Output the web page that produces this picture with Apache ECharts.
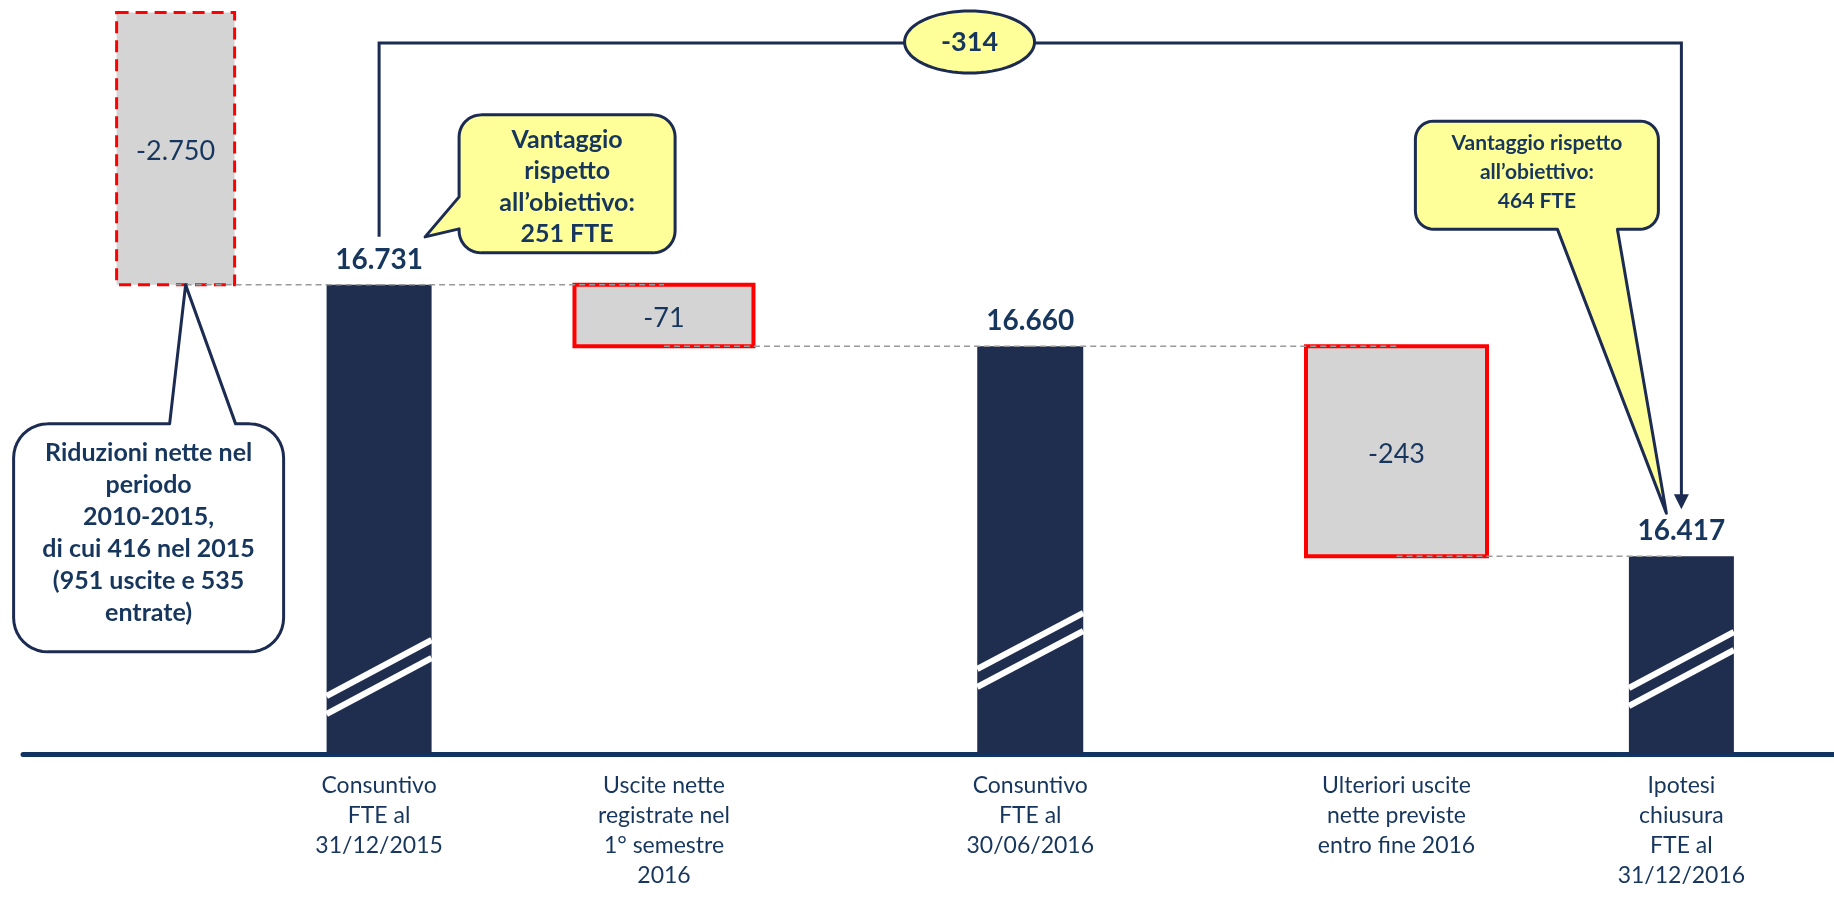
<!DOCTYPE html>
<html>
<head>
<meta charset="utf-8">
<title>FTE - ponte 2015 / 2016</title>
<script src="https://cdn.jsdelivr.net/npm/echarts@6/dist/echarts.min.js"></script>
<style>
  html, body { margin: 0; padding: 0; background: #fff; }
  #chart { width: 1834px; height: 898px; }
</style>
</head>
<body>
<div id="chart"></div>
<script>
// waterfall steps, left to right
const categories = [
  '',
  'Consuntivo\nFTE al\n31/12/2015',
  'Uscite nette\nregistrate nel\n1° semestre\n2016',
  'Consuntivo\nFTE al\n30/06/2016',
  'Ulteriori uscite\nnette previste\nentro fine 2016',
  'Ipotesi\nchiusura\nFTE al\n31/12/2016'
]
const stepTypes = ['delta', 'total', 'delta', 'total', 'delta', 'total']
const stepValues = [-2750, 16731, -71, 16660, -243, 16417]

// call-out boxes and the step each one points at
const calloutTexts = [
  'Riduzioni nette nel\nperiodo\n2010-2015,\ndi cui 416 nel 2015\n(951 uscite e 535\nentrate)',
  'Vantaggio\nrispetto\nall’obiettivo:\n251 FTE',
  'Vantaggio rispetto\nall’obiettivo:\n464 FTE'
]
const calloutStep = [0, 1, 5]

// layout (not data): the x axis is cut in thin slots so the steps keep the uneven spacing
const SLOT_COUNT = 89
const stepSlot = [7, 17, 31, 49, 67, 81]
const stepWidth = [118, 105, 179, 106, 181, 105]
const breakLift = [0, 0, 0, 27, 0, 8]
const yRange = [16188, 17048] // broken axis, bars are not drawn from zero
const calloutLayout = [
  { box: [-162, 139, 270, 228], r: 34, side: 'top', base: [-6, 60], tip: [10, 0], fill: '#ffffff', size: 25, lh: 32, dy: -5 },
  { box: [80, -170, 216, 138], r: 22, side: 'left', base: [-56, -88], tip: [46, -48], fill: '#ffff99', size: 25, lh: 31.5, dy: 3 },
  { box: [-266, -435, 243, 108], r: 18, side: 'bottom', base: [-64, -124], tip: [-15, -43], fill: '#ffff99', size: 21, lh: 29, dy: -3 }
]

const FONT = 'Lato, "Open Sans", sans-serif'
const NAVY = '#1f2d4e'
const INK = '#17365d'
const LINE = '#1c2b52'

const fmt = v => (v < 0 ? '-' : '') + String(Math.abs(v)).replace(/\B(?=(\d{3})+(?!\d))/g, '.')

const slotNames = Array.from({ length: SLOT_COUNT }, (_, k) => String(k))
const slotLabels = Array.from({ length: SLOT_COUNT }, () => '')
stepSlot.forEach((s, i) => { slotLabels[s] = categories[i] })

// level reached after each step (a delta ends on the following total)
const levelAfter = stepValues.map((v, i) => stepTypes[i] === 'total' ? v : stepValues[i + 1])

const stepData = stepValues.map((v, i) => {
  if (stepTypes[i] === 'total') return [stepSlot[i], v, v, i]
  return [stepSlot[i], levelAfter[i], levelAfter[i] - v, i]
})
const connectorData = stepSlot.slice(0, -1).map((s, i) => [s, levelAfter[i], stepSlot[i + 1], levelAfter[i]])
const bracketData = [[stepSlot[1], stepValues[1], stepSlot[5], stepValues[5]]]
const calloutData = calloutStep.map((s, k) => [stepSlot[s], levelAfter[s], k])

function renderStep(params, api) {
  const i = api.value(3)
  const cs = params.coordSys
  const hi = api.coord([api.value(0), api.value(2)])
  const x = hi[0]
  const w = stepWidth[i]
  const kids = []
  if (stepTypes[i] === 'total') {
    const bottom = cs.y + cs.height
    kids.push({ type: 'rect', shape: { x: x - w / 2, y: hi[1], width: w, height: bottom - hi[1] }, style: { fill: NAVY } })
    // axis-break marks near the foot of the bar
    const lift = breakLift[i]
    for (const off of [0, 18]) {
      kids.push({
        type: 'line',
        shape: { x1: x - w / 2, y1: bottom - 40 - off - lift, x2: x + w / 2, y2: bottom - 96 - off - lift },
        style: { stroke: '#ffffff', lineWidth: 6 }
      })
    }
    kids.push({
      type: 'text',
      style: { text: fmt(stepValues[i]), x: x, y: hi[1] - 25, align: 'center', verticalAlign: 'middle', fill: INK, fontSize: 28, fontWeight: 'bold', fontFamily: FONT }
    })
  } else {
    const lo = api.coord([api.value(0), api.value(1)])
    const notToScale = hi[1] < cs.y
    const top = Math.max(hi[1], cs.y + 1.5)
    const style = { fill: '#d4d4d4', stroke: '#ff0000', lineWidth: 4 }
    if (notToScale) {
      style.lineWidth = 3
      style.lineDash = [12, 7]
    }
    kids.push({ type: 'rect', shape: { x: x - w / 2, y: top, width: w, height: lo[1] - top }, style: style })
    kids.push({
      type: 'text',
      style: { text: fmt(stepValues[i]), x: x, y: (top + lo[1]) / 2 + 3, align: 'center', verticalAlign: 'middle', fill: INK, fontSize: 27, fontFamily: FONT }
    })
  }
  return { type: 'group', children: kids }
}

function renderConnector(params, api) {
  const a = api.coord([api.value(0), api.value(1)])
  const b = api.coord([api.value(2), api.value(3)])
  return {
    type: 'line',
    shape: { x1: a[0], y1: a[1], x2: b[0], y2: b[1] },
    style: { stroke: '#9a9a9a', lineWidth: 1.5, lineDash: [6, 4] }
  }
}

function renderBracket(params, api) {
  const cs = params.coordSys
  const a = api.coord([api.value(0), api.value(1)])
  const b = api.coord([api.value(2), api.value(3)])
  const topY = cs.y + 32
  const tipY = b[1] - 47
  const cx = a[0] + (b[0] - a[0]) * 0.4534
  const ellipse = []
  for (let k = 0; k < 72; k++) {
    const t = k / 72 * Math.PI * 2
    ellipse.push([cx + 65 * Math.cos(t), topY - 1 + 31 * Math.sin(t)])
  }
  return {
    type: 'group',
    children: [
      {
        type: 'polyline',
        shape: { points: [[a[0], a[1] - 48], [a[0], topY], [b[0], topY], [b[0], tipY - 14]] },
        style: { stroke: LINE, lineWidth: 3, fill: null }
      },
      { type: 'polygon', shape: { points: [[b[0] - 7.5, tipY - 15], [b[0] + 7.5, tipY - 15], [b[0], tipY]] }, style: { fill: LINE } },
      { type: 'polygon', shape: { points: ellipse }, style: { fill: '#ffff99', stroke: LINE, lineWidth: 3 } },
      {
        type: 'text',
        style: { text: fmt(api.value(3) - api.value(1)), x: cx, y: topY - 1, align: 'center', verticalAlign: 'middle', fill: INK, fontSize: 27, fontWeight: 'bold', fontFamily: FONT }
      }
    ]
  }
}

// rounded box with a pointer, as one outline
function calloutPoints(x, y, w, h, r, side, b1, b2, tip) {
  const pts = []
  const arc = (cx, cy, a0, a1) => {
    for (let k = 0; k <= 10; k++) {
      const t = a0 + (a1 - a0) * k / 10
      pts.push([cx + r * Math.cos(t), cy + r * Math.sin(t)])
    }
  }
  arc(x + r, y + r, Math.PI, 1.5 * Math.PI)
  if (side === 'top') pts.push(b1, tip, b2)
  arc(x + w - r, y + r, 1.5 * Math.PI, 2 * Math.PI)
  arc(x + w - r, y + h - r, 0, 0.5 * Math.PI)
  if (side === 'bottom') pts.push(b1, tip, b2)
  arc(x + r, y + h - r, 0.5 * Math.PI, Math.PI)
  if (side === 'left') pts.push(b1, tip, b2)
  return pts
}

function renderCallout(params, api) {
  const p = api.coord([api.value(0), api.value(1)])
  const k = api.value(2)
  const c = calloutLayout[k]
  const bx = p[0] + c.box[0]
  const by = p[1] + c.box[1]
  const bw = c.box[2]
  const bh = c.box[3]
  let b1, b2
  if (c.side === 'left') {
    b1 = [bx, p[1] + c.base[0]]
    b2 = [bx, p[1] + c.base[1]]
  } else if (c.side === 'top') {
    b1 = [p[0] + c.base[0], by]
    b2 = [p[0] + c.base[1], by]
  } else {
    b1 = [p[0] + c.base[0], by + bh]
    b2 = [p[0] + c.base[1], by + bh]
  }
  const tip = [p[0] + c.tip[0], p[1] + c.tip[1]]
  return {
    type: 'group',
    children: [
      {
        type: 'polygon',
        shape: { points: calloutPoints(bx, by, bw, bh, c.r, c.side, b1, b2, tip) },
        style: { fill: c.fill, stroke: LINE, lineWidth: 3, lineJoin: 'round' }
      },
      {
        type: 'text',
        style: {
          text: calloutTexts[k], x: bx + bw / 2, y: by + bh / 2 + c.dy,
          align: 'center', verticalAlign: 'middle', lineHeight: c.lh,
          fill: INK, fontSize: c.size, fontWeight: 'bold', fontFamily: FONT
        }
      }
    ]
  }
}

const chart = echarts.init(document.getElementById('chart'))
chart.setOption({
  animation: false,
  grid: { left: 23, right: 0, top: 11, bottom: 144, outerBoundsMode: 'none' },
  xAxis: {
    type: 'category',
    data: slotNames,
    boundaryGap: true,
    axisLine: { lineStyle: { color: '#103562', width: 5 } },
    axisTick: { show: false },
    axisLabel: {
      interval: 0,
      margin: 17,
      formatter: (v, idx) => slotLabels[idx],
      color: INK,
      fontSize: 23,
      lineHeight: 30,
      fontFamily: FONT
    }
  },
  yAxis: { type: 'value', min: yRange[0], max: yRange[1], show: false },
  series: [
    { type: 'custom', name: 'steps', z: 2, clip: false, data: stepData, encode: { x: 0, y: [1, 2] }, renderItem: renderStep },
    { type: 'custom', name: 'connectors', z: 3, clip: false, data: connectorData, encode: { x: [0, 2], y: [1, 3] }, renderItem: renderConnector },
    { type: 'custom', name: 'bracket', z: 4, clip: false, data: bracketData, encode: { x: [0, 2], y: [1, 3] }, renderItem: renderBracket },
    { type: 'custom', name: 'callouts', z: 5, clip: false, data: calloutData, encode: { x: 0, y: 1 }, renderItem: renderCallout }
  ]
})
window.addEventListener('resize', () => chart.resize())
</script>
</body>
</html>
